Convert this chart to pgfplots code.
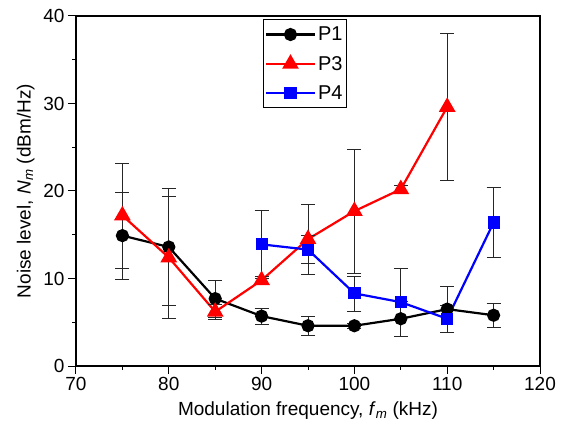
\documentclass[border=0pt]{standalone}
\usepackage{fontspec}
\setmainfont{Liberation Sans}
\usepackage{pgfplots}
\pgfplotsset{compat=1.18}
\usepackage{pgfplotstable}

% x  y  err
\pgfplotstableread{
x y e
75 14.9 5.0
80 13.6 6.7
85 7.7 2.1
90 5.7 0.9
95 4.6 1.1
100 4.6 0.3
105 5.4 2.0
110 6.5 2.6
115 5.8 1.35
}\pone
\pgfplotstableread{
x y e
75 17.2 6.0
80 12.4 7.0
85 6.2 0.9
90 9.8 0.5
95 14.5 4.0
100 17.7 7.1
105 20.2 0.5
110 29.6 8.4
}\pthree
\pgfplotstableread{
x y e
90 13.9 3.9
95 13.3 1.6
100 8.3 2.0
105 7.3 3.9
110 5.4 1.5
115 16.4 4.0
}\pfour

\begin{document}
\begin{tikzpicture}
\begin{axis}[
    scale only axis,
    width=464pt, height=350pt,
    xmin=70, xmax=120, ymin=0, ymax=40,
    xtick={70,80,...,120}, ytick={0,10,...,40},
    minor xtick={75,85,...,115}, minor ytick={5,15,...,35},
    tick align=outside,
    xtick pos=bottom, ytick pos=left,
    major tick length=8pt, minor tick length=4pt,
    tick style={black, line width=1pt},
    axis line style={black, line width=1.2pt},
    /pgf/number format/assume math mode=true,
    ticklabel style={font=\fontsize{19}{22}\selectfont},
    label style={font=\fontsize{19}{22}\selectfont},
    xlabel={Modulation frequency, \textit{f}\textsubscript{\textit{m}} (kHz)},
    ylabel={Noise level, \textit{N}\textsubscript{\textit{m}} (dBm/Hz)},
    xlabel style={yshift=-4pt},
    ylabel style={yshift=2pt},
    error bars/y dir=both, error bars/y explicit,
    error bars/error bar style={black!85, line width=0.7pt},
    error bars/error mark options={rotate=90, mark size=7pt, black!85, line width=0.7pt},
    legend style={at={(0.403,0.99)}, anchor=north west, draw=black,
        line width=0.8pt, font=\fontsize{20}{23}\selectfont,
        row sep=10pt, inner xsep=1.5pt, inner ysep=5pt},
    legend cell align=left,
    legend image code/.code={
        \draw[mark repeat=2, mark phase=2] plot coordinates {(0pt,0pt) (24.5pt,0pt) (49pt,0pt)};
    },
]
\addplot[black, line width=2.2pt, mark=*, mark size=5.5pt, mark options={solid}]
    table[x=x, y=y, y error=e] {\pone};
\addplot[red, line width=2.2pt, mark=triangle*, mark size=7.5pt]
    table[x=x, y=y, y error=e] {\pthree};
\addplot[blue, line width=2.2pt, mark=square*, mark size=5pt]
    table[x=x, y=y, y error=e] {\pfour};
\legend{P1, P3, P4}
\end{axis}
\pgfresetboundingbox
\path (-76pt,-73pt) rectangle (491pt,366pt);
\end{tikzpicture}
\end{document}
